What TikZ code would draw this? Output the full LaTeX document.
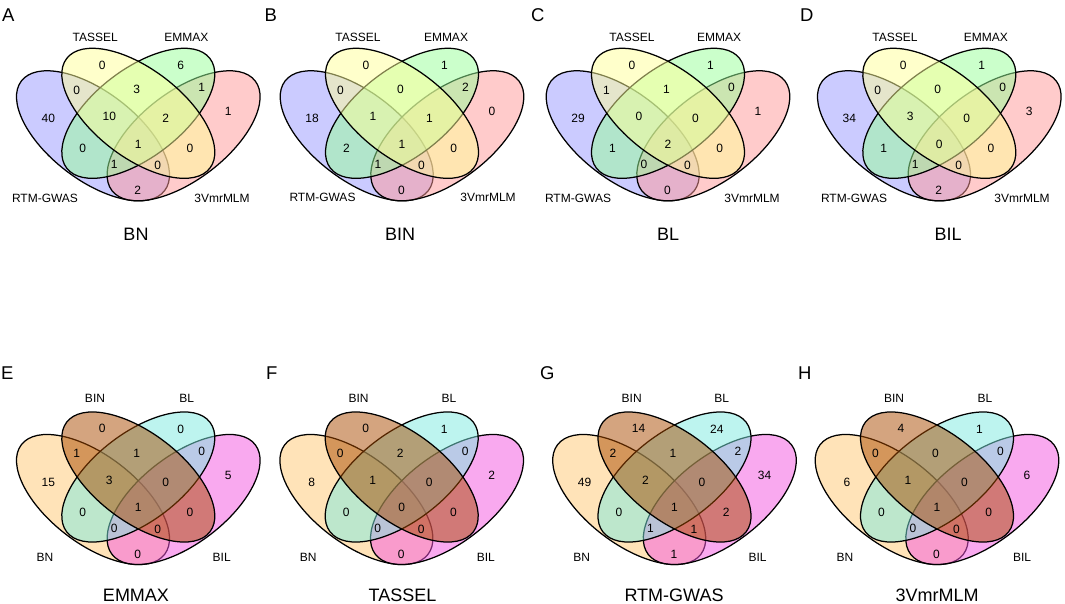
\documentclass[tikz,border=0pt]{standalone}
\usepackage{fontspec}
\setmainfont{Liberation Sans}
\definecolor{tA}{RGB}{153,153,255}
\definecolor{tB}{RGB}{255,255,153}
\definecolor{tC}{RGB}{153,255,153}
\definecolor{tD}{RGB}{255,153,153}
\definecolor{bA}{RGB}{255,201,115}
\definecolor{bB}{RGB}{170,75,0}
\definecolor{bC}{RGB}{125,235,225}
\definecolor{bD}{RGB}{245,85,225}
\tikzset{
  vset/.style={draw=black, line width=1.25pt, fill opacity=0.5},
  cnt/.style={inner sep=0pt, font=\fontsize{12}{14}\selectfont},
  setlbl/.style={inner sep=0pt, font=\fontsize{12}{14}\selectfont},
  ttl/.style={inner sep=0pt, font=\fontsize{18}{20}\selectfont},
  plet/.style={inner sep=0pt, anchor=west, font=\fontsize{18.5}{20}\selectfont},
}
\newcommand\vshapes[3]{%
  \begin{scope}[shift={(#1,#2)}]
    \path[vset, fill=#3A, rotate around={-37.4:(-45.3,22.5)}] (-45.3,22.5) ellipse [x radius=90.2pt, y radius=44.1pt];
    \path[vset, fill=#3D, rotate around={37.4:(45.3,22.5)}] (45.3,22.5) ellipse [x radius=90.2pt, y radius=44.1pt];
    \path[vset, fill=#3C, rotate around={37.4:(0,0)}] (0,0) ellipse [x radius=90.2pt, y radius=44.1pt];
    \path[vset, fill=#3B, rotate around={-37.4:(0,0)}] (0,0) ellipse [x radius=90.2pt, y radius=44.1pt];
  \end{scope}}
\newcommand\vcounts[4]{%
  \def\cvals{#4}%
  \begin{scope}[shift={(#2,#3)}]
  \foreach \dx/\dy [count=\k from 0] in {-36/-48.3, 42.4/-47.6, -61.6/-23.3, -1.6/-24, 63.4/-26, -90/5, -29/3.4, 27.4/5.5, 90/-1.6, -55.6/35, 0/30.7, 51.7/35, -24/51, 19.4/52.4, -0.6/77.4}{
    \pgfmathtruncatemacro\cv{\cvals[\k]}
    \node[cnt] (#1-n\k) at (\dx,\dy) {\cv};
  }
  \end{scope}}
\begin{document}
\begin{tikzpicture}[x=1pt, y=-1pt]
\useasboundingbox (0,0) rectangle (1065,604);
\fill[white] (0,0) rectangle (1065,604);
% ---------- top row ----------
\vshapes{138.3}{113.3}{t}
\vshapes{402}{113.3}{t}
\vshapes{668}{113.3}{t}
\vshapes{939.3}{113.3}{t}
\vcounts{A}{138.3}{113.3}{{0,6,0,3,1,40,10,2,1,0,1,0,1,0,2}}
\vcounts{B}{402}{113.3}{{0,1,0,0,2,18,1,1,0,2,1,0,1,0,0}}
\vcounts{C}{668}{113.3}{{0,1,1,1,0,29,0,0,1,1,2,0,0,0,0}}
\vcounts{D}{939.3}{113.3}{{0,1,0,0,0,34,3,0,3,1,0,0,1,0,2}}
% ---------- bottom row ----------
\vshapes{138.3}{477}{b}
\vshapes{401.7}{477}{b}
\vshapes{674.5}{477}{b}
\vshapes{937}{477}{b}
\vcounts{E}{138.3}{477}{{0,0,1,1,0,15,3,0,5,0,1,0,0,0,0}}
\vcounts{F}{401.7}{477}{{0,1,0,2,0,8,1,0,2,0,0,0,0,0,0}}
\vcounts{G}{674.5}{477}{{14,24,2,1,2,49,2,0,34,0,1,2,1,1,1}}
\vcounts{H}{937}{477}{{4,1,0,0,0,6,1,0,6,0,1,0,0,0,0}}
% ---------- set labels ----------
\node[setlbl] (A-s2) at (95.3,37) {TASSEL};
\node[setlbl] (A-s3) at (186.3,37) {EMMAX};
\node[setlbl] (A-s1) at (45,198) {RTM-GWAS};
\node[setlbl] (A-s4) at (222,198) {3VmrMLM};
\node[setlbl] (B-s2) at (358,37) {TASSEL};
\node[setlbl] (B-s3) at (446,37) {EMMAX};
\node[setlbl] (B-s1) at (322.5,197) {RTM-GWAS};
\node[setlbl] (B-s4) at (488,197) {3VmrMLM};
\node[setlbl] (C-s2) at (632,37) {TASSEL};
\node[setlbl] (C-s3) at (719,37) {EMMAX};
\node[setlbl] (C-s1) at (578,198) {RTM-GWAS};
\node[setlbl] (C-s4) at (752,198) {3VmrMLM};
\node[setlbl] (D-s2) at (895,37) {TASSEL};
\node[setlbl] (D-s3) at (985.8,37) {EMMAX};
\node[setlbl] (D-s1) at (854,198) {RTM-GWAS};
\node[setlbl] (D-s4) at (1022,198) {3VmrMLM};
\node[setlbl] (E-s2) at (95,398.5) {BIN};
\node[setlbl] (E-s3) at (186.7,398.5) {BL};
\node[setlbl] (E-s1) at (45,557) {BN};
\node[setlbl] (E-s4) at (221.7,557) {BIL};
\node[setlbl] (F-s2) at (358.5,398.5) {BIN};
\node[setlbl] (F-s3) at (449,398.5) {BL};
\node[setlbl] (F-s1) at (308.3,557) {BN};
\node[setlbl] (F-s4) at (485.8,557) {BIL};
\node[setlbl] (G-s2) at (631.7,398.5) {BIN};
\node[setlbl] (G-s3) at (721.7,398.5) {BL};
\node[setlbl] (G-s1) at (581.7,557) {BN};
\node[setlbl] (G-s4) at (757.5,557) {BIL};
\node[setlbl] (H-s2) at (894,398.5) {BIN};
\node[setlbl] (H-s3) at (985,398.5) {BL};
\node[setlbl] (H-s1) at (845,557) {BN};
\node[setlbl] (H-s4) at (1022,557) {BIL};
% ---------- titles ----------
\node[ttl] (A-t) at (136,234) {BN};
\node[ttl] (B-t) at (400,234) {BIN};
\node[ttl] (C-t) at (668,234) {BL};
\node[ttl] (D-t) at (948,234) {BIL};
\node[ttl] (E-t) at (136,595) {EMMAX};
\node[ttl] (F-t) at (402.5,595) {TASSEL};
\node[ttl] (G-t) at (674,595) {RTM-GWAS};
\node[ttl] (H-t) at (937,595) {3VmrMLM};
% ---------- panel letters ----------
\node[plet] (A-l) at (2,15) {A};
\node[plet] (B-l) at (264.5,15) {B};
\node[plet] (C-l) at (531,15) {C};
\node[plet] (D-l) at (800,15) {D};
\node[plet] (E-l) at (1,372.8) {E};
\node[plet] (F-l) at (266,373.3) {F};
\node[plet] (G-l) at (540,372.8) {G};
\node[plet] (H-l) at (798,373) {H};
\end{tikzpicture}
\end{document}
